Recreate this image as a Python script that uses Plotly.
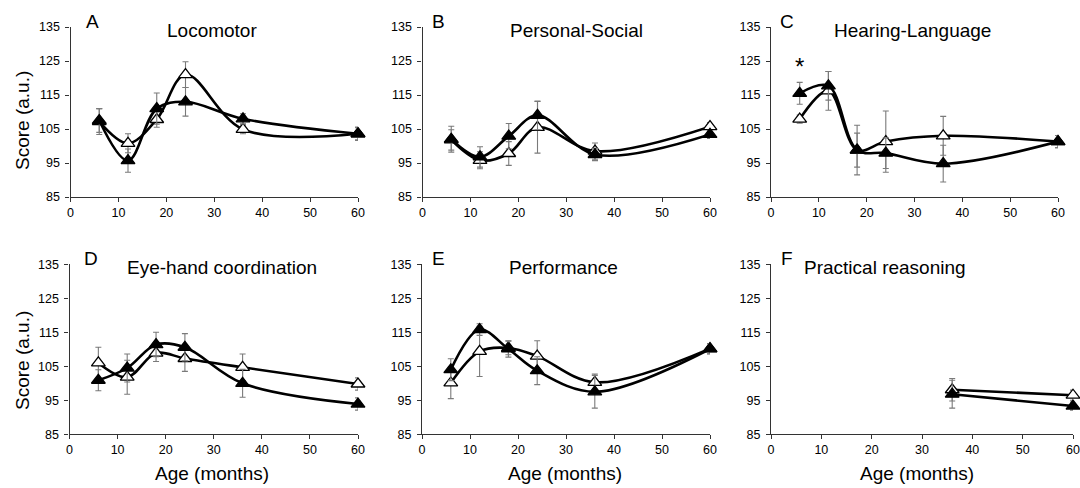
import plotly.graph_objects as go

W, H = 1080, 488

ages = [6, 12, 18, 24, 36, 60]
ages_f = [36, 60]

# Panel A - Locomotor
a_open = [107.2, 100.8, 107.8, 121.0, 104.9, 103.6]
a_open_err = [3.8, 2.8, 2.3, 3.8, 1.3, 2.0]
a_fill = [107.5, 95.7, 111.0, 113.0, 108.0, 103.6]
a_fill_err = [3.5, 3.4, 4.6, 4.2, 1.5, 1.8]

# Panel B - Personal-Social
b_open = [101.8, 95.8, 97.8, 105.5, 98.5, 105.7]
b_open_err = [3.0, 2.5, 3.5, 7.6, 2.4, 1.2]
b_fill = [102.0, 96.8, 102.9, 109.0, 97.5, 103.4]
b_fill_err = [3.8, 3.0, 3.7, 4.2, 1.8, 1.2]

# Panel C - Hearing-Language
c_open = [107.9, 116.2, 98.8, 101.3, 103.0, 101.3]
c_open_err = [1.2, 5.7, 7.3, 9.0, 5.7, 1.8]
c_fill = [115.5, 117.7, 98.8, 97.9, 94.8, 101.3]
c_fill_err = [3.2, 4.2, 5.0, 4.5, 5.4, 1.8]

# Panel D - Eye-hand coordination
d_open = [106.0, 101.8, 108.9, 107.3, 104.7, 99.8]
d_open_err = [4.6, 5.0, 2.5, 3.8, 3.9, 1.8]
d_fill = [100.9, 104.5, 111.4, 110.6, 100.0, 93.9]
d_fill_err = [3.1, 4.1, 3.6, 4.0, 4.1, 1.8]

# Panel E - Performance
e_open = [100.1, 109.4, 110.4, 108.0, 100.3, 110.2]
e_open_err = [4.6, 7.4, 2.0, 4.5, 2.4, 1.5]
e_fill = [104.0, 115.8, 110.1, 103.7, 97.5, 110.1]
e_fill_err = [3.2, 1.7, 2.4, 4.1, 4.8, 1.5]

# Panel F - Practical reasoning
f_open = [98.1, 96.5]
f_open_err = [3.3, 1.5]
f_fill = [96.8, 93.3]
f_fill_err = [4.1, 1.2]

titles = ["Locomotor", "Personal-Social", "Hearing-Language",
          "Eye-hand coordination", "Performance", "Practical reasoning"]
letters = ["A", "B", "C", "D", "E", "F"]
yticks = [85, 95, 105, 115, 125, 135]
xticks = [0, 10, 20, 30, 40, 50, 60]

panels = [
    (ages, a_open, a_open_err, a_fill, a_fill_err),
    (ages, b_open, b_open_err, b_fill, b_fill_err),
    (ages, c_open, c_open_err, c_fill, c_fill_err),
    (ages, d_open, d_open_err, d_fill, d_fill_err),
    (ages, e_open, e_open_err, e_fill, e_fill_err),
    (ages_f, f_open, f_open_err, f_fill, f_fill_err),
]

# pixel geometry of plot areas (x0, x1, ytop, ybottom)
geom = [
    (70.5, 358, 27, 197),
    (422.5, 710, 27, 197),
    (771, 1058, 27, 197),
    (69.5, 358, 264.3, 434.3),
    (422, 710, 264.3, 434.3),
    (771, 1073, 264.3, 434.3),
]
letter_x = [92, 438, 787, 91, 438, 787]
title_x = [212, 576, 912, 222, 563, 885]

FONT = "Liberation Sans, Arial, sans-serif"
fig = go.Figure()
layout = dict(
    template="none",
    width=W, height=H,
    margin=dict(l=0, r=0, t=0, b=0, pad=0, autoexpand=False),
    paper_bgcolor="white", plot_bgcolor="white",
    showlegend=False,
    font=dict(family=FONT, color="black"),
)
annotations = []

for i, (x, yo, yoe, yf, yfe) in enumerate(panels):
    n = i + 1
    xa = "x" if n == 1 else f"x{n}"
    ya = "y" if n == 1 else f"y{n}"
    for yv, ye, filled in [(yo, yoe, False), (yf, yfe, True)]:
        fig.add_trace(go.Scatter(
            x=x, y=yv, xaxis=xa, yaxis=ya,
            mode="lines+markers",
            line=dict(color="black", width=2.6, shape="spline", smoothing=1.0),
            marker=dict(symbol="triangle-up", size=12,
                        color="black" if filled else "white",
                        line=dict(color="black", width=1.3)),
            error_y=dict(type="data", array=ye, visible=True,
                         color="#7a7a7a", thickness=1.1, width=3),
            cliponaxis=False,
        ))
    x0, x1, yt, yb = geom[i]
    axx = dict(domain=[x0 / W, x1 / W], range=[0, 60], anchor=ya,
               tickvals=xticks, showgrid=False, zeroline=False,
               showline=True, linecolor="#333333", linewidth=1.3,
               ticks="outside", ticklen=4, tickcolor="#333333", tickwidth=1,
               tickfont=dict(size=12.5, family=FONT, color="black"),
               automargin=False, fixedrange=True)
    axy = dict(domain=[1 - yb / H, 1 - yt / H], range=[85, 135], anchor=xa,
               tickvals=yticks, showgrid=False, zeroline=False,
               showline=True, linecolor="#333333", linewidth=1.3,
               ticks="outside", ticklen=4, tickcolor="#333333", tickwidth=1,
               tickfont=dict(size=12.5, family=FONT, color="black"),
               ticklabelstandoff=3,
               automargin=False, fixedrange=True)
    layout["xaxis" if n == 1 else f"xaxis{n}"] = axx
    layout["yaxis" if n == 1 else f"yaxis{n}"] = axy

    # panel letter
    annotations.append(dict(text=letters[i], x=letter_x[i] / W, y=1 - (yt - 6) / H,
                            xref="paper", yref="paper", showarrow=False,
                            xanchor="center", yanchor="middle",
                            font=dict(size=19, family=FONT, color="black")))
    # title
    annotations.append(dict(text=titles[i], x=title_x[i] / W, y=1 - (yt + 3.5) / H,
                            xref="paper", yref="paper", showarrow=False,
                            xanchor="center", yanchor="middle",
                            font=dict(size=19, family=FONT, color="black")))

# y-axis titles
for yc in [121, 361]:
    annotations.append(dict(text="Score (a.u.)", x=22 / W, y=1 - yc / H,
                            xref="paper", yref="paper", showarrow=False,
                            textangle=-90, xanchor="center", yanchor="middle",
                            font=dict(size=19, family=FONT, color="black")))
# x-axis titles
for xc in [212, 565, 917]:
    annotations.append(dict(text="Age (months)", x=xc / W, y=1 - 473 / H,
                            xref="paper", yref="paper", showarrow=False,
                            xanchor="center", yanchor="middle",
                            font=dict(size=19, family=FONT, color="black")))

# significance asterisk in panel C
annotations.append(dict(text="*", x=6, y=123.5, xref="x3", yref="y3",
                        showarrow=False, xanchor="center", yanchor="middle",
                        font=dict(size=24, family=FONT, color="black")))

layout["annotations"] = annotations
fig.update_layout(**layout)
fig.write_html(
    "out.html",
    config={"displayModeBar": False},
    post_script="document.body.style.margin='0';document.body.style.padding='0';"
                "document.documentElement.style.overflow='hidden';"
                "document.body.style.overflow='hidden';",
)
